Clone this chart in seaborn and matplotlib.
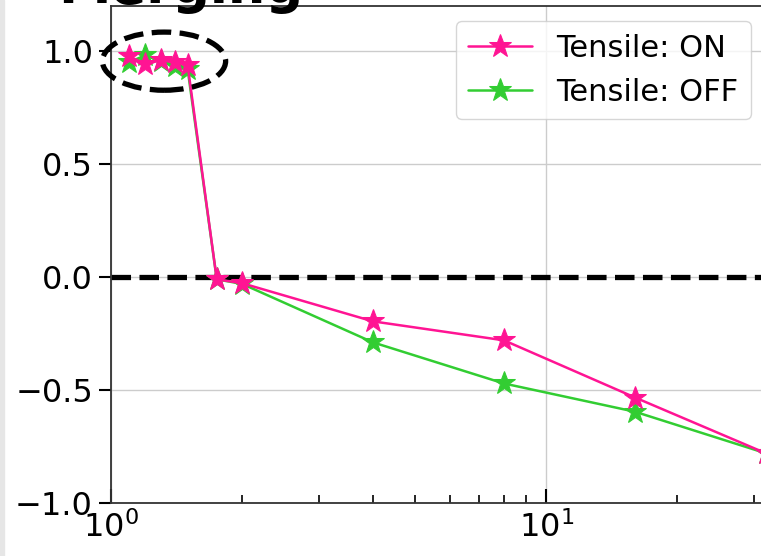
import matplotlib
matplotlib.use("Agg")
import matplotlib.pyplot as plt
from matplotlib.patches import Ellipse, Rectangle
import seaborn as sns
import pandas as pd

# ratio values
ratios = [1.1, 1.2, 1.3, 1.4, 1.5, 1.75, 2, 4, 8, 16, 32]
tensile_on = [0.978, 0.942, 0.96, 0.951, 0.938, -0.01, -0.027, -0.196, -0.28, -0.533, -0.78]
tensile_off = [0.951, 0.982, 0.955, 0.933, 0.92, -0.01, -0.03, -0.289, -0.471, -0.596, -0.78]
labels = ["Tensile: ON", "Tensile: OFF"]
colors = ["#ff1493", "#32cd32"]

df = pd.DataFrame({
    "x": ratios * 2,
    "y": tensile_on + tensile_off,
    "series": [labels[0]] * len(ratios) + [labels[1]] * len(ratios),
})

sns.set_style("whitegrid", {"axes.edgecolor": "0.2", "grid.color": "0.8",
                            "text.color": "black", "xtick.color": "black",
                            "ytick.color": "black", "axes.labelcolor": "black"})

fig = plt.figure(figsize=(7.61, 5.56), dpi=100)
ax = fig.add_axes([111 / 761, 53 / 556, 655 / 761, 497 / 556])

# pink sits on top of green in the reference
for lab, col, z in zip(labels, colors, [4, 3]):
    sns.lineplot(data=df[df["series"] == lab], x="x", y="y", color=col,
                 marker="*", markersize=17, markeredgecolor=col,
                 linewidth=1.8, label=lab, ax=ax, zorder=z)

ax.axhline(0, color="k", ls="--", lw=3.8, zorder=2)

ax.set_xscale("log")
ax.set_xlim(1, 32)
ax.set_ylim(-1, 1.2)
ax.set_yticks([-1.0, -0.5, 0.0, 0.5, 1.0])
ax.set_xlabel("")
ax.set_ylabel("")
ax.grid(True, which="major", lw=1)
ax.grid(False, which="minor")

ax.tick_params(axis="x", which="major", direction="in", length=10, width=1.5,
               labelsize=23, pad=6, bottom=True)
ax.tick_params(axis="x", which="minor", direction="in", length=6, width=1.2, bottom=True)
ax.tick_params(axis="y", which="major", direction="out", length=9, width=1.5,
               labelsize=23, pad=4, left=True)
for s in ax.spines.values():
    s.set_linewidth(1.3)

ell = Ellipse((0.081, 0.889), 0.188, 0.117, transform=ax.transAxes,
              fill=False, ec="k", ls="--", lw=3.8, clip_on=False, zorder=5)
ax.add_patch(ell)

ax.legend(loc="upper right", fontsize=22, handlelength=2.1)

fig.text(58 / 761, 1 - 3 / 556, "Merging", fontsize=38, fontweight="bold",
         va="baseline", ha="left")
fig.patches.append(Rectangle((0, 0), 4 / 761, 1, transform=fig.transFigure,
                             color="#e6e6e6", zorder=0))

fig.savefig("out.png", dpi=100)
